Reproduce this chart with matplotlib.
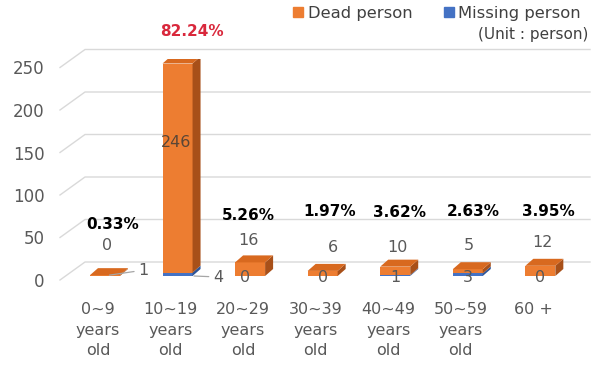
import matplotlib
matplotlib.use("Agg")
import matplotlib.pyplot as plt
from matplotlib.patches import Polygon, Patch
from matplotlib.transforms import ScaledTranslation

# data
categories = ["0~9\nyears\nold", "10~19\nyears\nold", "20~29\nyears\nold",
              "30~39\nyears\nold", "40~49\nyears\nold", "50~59\nyears\nold", "60 +"]
dead = [1, 246, 16, 6, 10, 5, 12]
missing = [0, 4, 0, 0, 1, 3, 0]
percent = ["0.33%", "82.24%", "5.26%", "1.97%", "3.62%", "2.63%", "3.95%"]
yticks = [0, 50, 100, 150, 200, 250]

ORANGE = "#ED7D31"
ORANGE_TOP = "#D8691F"
ORANGE_SIDE = "#A85019"
BLUE = "#4472C4"
BLUE_SIDE = "#2F5597"
GRAY = "#595959"
GRID = "#D9D9D9"
RED = "#D9283C"

fig = plt.figure(figsize=(6, 3.69), dpi=100)
ax = fig.add_axes([60 / 600, 89 / 369, 505 / 600, 0.85 * 260 / 369])
ax.set_xlim(-0.62, 6.34)
ax.set_ylim(0, 260)
for s in ax.spines.values():
    s.set_visible(False)

# pixel -> data scale
p0 = ax.transData.transform((0, 0))
p1 = ax.transData.transform((1, 1))
sx = p1[0] - p0[0]
sy = p1[1] - p0[1]

def px(dx, dy):
    return dx / sx, dy / sy

# back wall gridlines with perspective step
gx, gy = px(25, 18)
x0, x1 = ax.get_xlim()
for v in yticks:
    ax.plot([x0, x0 + gx, x1 + gx], [v, v + gy, v + gy], color=GRID, lw=1,
            zorder=0, clip_on=False)

# bars (front faces raised a little above the axis front edge)
lift = ScaledTranslation(0, 0.04, fig.dpi_scale_trans)
btrans = ax.transData + lift
w = 30 / sx
ddx, ddy = px(8, 7)
xs = list(range(len(categories)))

ax.bar(xs, missing, width=w, color=BLUE, zorder=3, transform=btrans)
ax.bar(xs, dead, width=w, bottom=missing, color=ORANGE, zorder=3, transform=btrans)

for i in xs:
    r = i + w / 2
    l = i - w / 2
    segs = [(0, missing[i], BLUE_SIDE), (missing[i], missing[i] + dead[i], ORANGE_SIDE)]
    for b, t, c in segs:
        if t > b:
            ax.add_patch(Polygon([(r, b), (r + ddx, b + ddy), (r + ddx, t + ddy), (r, t)],
                                 closed=True, color=c, lw=0, zorder=3, transform=btrans))
    top = missing[i] + dead[i]
    ax.add_patch(Polygon([(l, top), (r, top), (r + ddx, top + ddy), (l + ddx, top + ddy)],
                         closed=True, color=ORANGE_TOP, lw=0, zorder=3, transform=btrans))

# labels: offsets in pixels relative to bar front top / bottom
pt = 0.72
dead_off = [(34, 5), (0, 0), (-2, 22), (10, 23), (2, 19), (1, 24), (2, 23)]
miss_off = [(2, 31), (24, -1), (-5, -2), (0, -2), (0, -2), (0, -2), (0, -2)]
pct_y = [65, 292, 76, 80, 79, 80, 81]
pct_dx = [0.11, 0.2, -0.03, 0.09, 0.06, 0.08, 0.11]
leader = dict(arrowstyle="-", color="#A6A6A6", lw=0.9, shrinkA=1, shrinkB=0)

for i in xs:
    top = missing[i] + dead[i]
    if i == 1:
        ax.text(i - 0.02, 162, str(dead[i]), ha="center", va="center",
                fontsize=11.5, color="#5A4636", zorder=5)
    elif i == 0:
        ax.annotate(str(dead[i]), xy=(i + 0.06, top), xytext=(dead_off[i][0] * pt, dead_off[i][1] * pt),
                    textcoords="offset points", ha="center", va="center", fontsize=11.5, color=GRAY,
                    arrowprops=leader, xycoords=btrans, zorder=5)
    else:
        ax.annotate(str(dead[i]), xy=(i, top), xytext=(dead_off[i][0] * pt, dead_off[i][1] * pt),
                    textcoords="offset points", ha="center", va="center", fontsize=11.5, color=GRAY,
                    xycoords=btrans, zorder=5)
    if i == 1:
        ax.annotate(str(missing[i]), xy=(i + w / 2 + 0.02, 0), xytext=(miss_off[i][0] * pt, miss_off[i][1] * pt),
                    textcoords="offset points", ha="center", va="center", fontsize=11.5, color=GRAY,
                    arrowprops=leader, xycoords=btrans, zorder=5)
    else:
        ax.annotate(str(missing[i]), xy=(i, 0), xytext=(miss_off[i][0] * pt, miss_off[i][1] * pt),
                    textcoords="offset points", ha="center", va="center", fontsize=11.5, color=GRAY,
                    xycoords=btrans, zorder=5)
    ax.text(i + pct_dx[i], pct_y[i], percent[i], ha="center", va="center", fontsize=11,
            fontweight="bold", color=RED if i == 1 else "black", zorder=5, clip_on=False)

# axes ticks
ax.set_yticks(yticks)
ax.set_xticks(xs)
ax.set_xticklabels(categories, linespacing=1.45)
ax.tick_params(axis="both", length=0, labelsize=11.5, labelcolor=GRAY)
ax.tick_params(axis="y", pad=11, labelsize=12)
ax.tick_params(axis="x", pad=16)
shift = ScaledTranslation(-0.07, 0, fig.dpi_scale_trans)
for lab in ax.get_xticklabels():
    lab.set_transform(lab.get_transform() + shift)
    lab.set_verticalalignment("top")

# legend
handles = [Patch(color=ORANGE, label="Dead person"), Patch(color=BLUE, label="Missing person")]
fig.legend(handles=handles, loc="upper right", bbox_to_anchor=(0.993, 1.025), ncol=2,
           frameon=False, fontsize=11.8, handlelength=0.6, handleheight=0.6,
           handletextpad=0.3, columnspacing=1.9, labelcolor="#404040")
fig.text(588 / 600, 1 - 35 / 369, "(Unit : person)", ha="right", va="center",
         fontsize=11, color="#404040")

fig.savefig("out.png", dpi=100)
